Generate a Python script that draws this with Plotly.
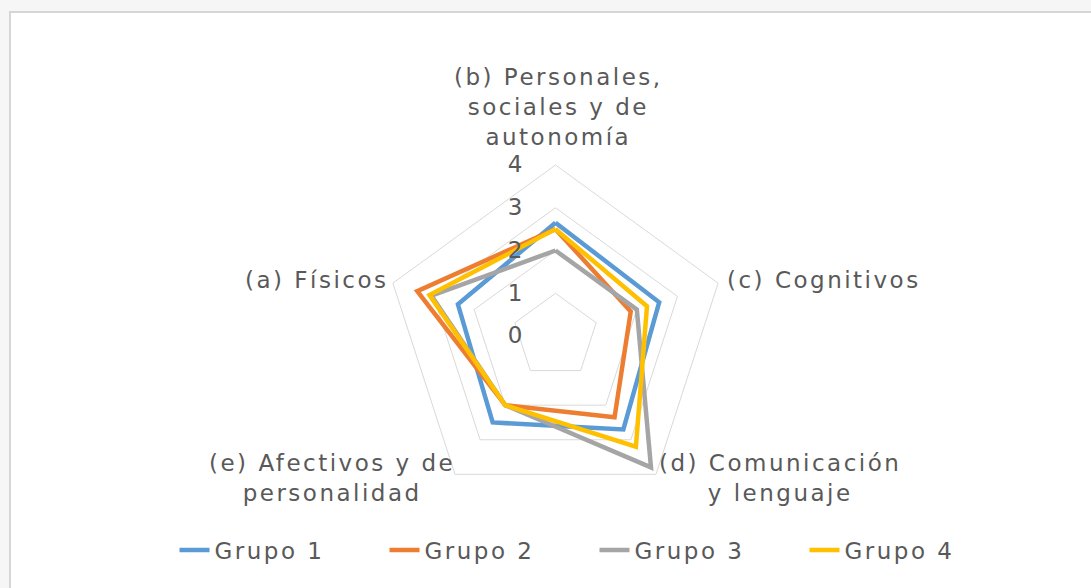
import plotly.graph_objects as go

categories = [
    "(b) Personales,<br>sociales y de<br>autonomía",
    "(c) Cognitivos",
    "(d) Comunicación<br>y lenguaje",
    "(e) Afectivos y de<br>personalidad",
    "(a) Físicos",
]
series_names = ["Grupo 1", "Grupo 2", "Grupo 3", "Grupo 4"]
grupo1 = [2.65, 2.55, 2.7, 2.5, 2.4]
grupo2 = [2.5, 1.85, 2.35, 2.0, 3.4]
grupo3 = [2.0, 2.0, 3.8, 2.0, 3.05]
grupo4 = [2.5, 2.25, 3.2, 2.0, 3.1]
colors = ["#5B9BD5", "#ED7D31", "#A5A5A5", "#FFC000"]
radial_ticks = [0, 1, 2, 3, 4]

W, H = 1091, 588
cx, cy, R = 555.5, 336, 171

LS = "letter-spacing:2.5px"

def spaced(t):
    return "<br>".join(f'<span style="{LS}">{p}</span>' for p in t.split("<br>"))

fig = go.Figure()
for name, vals, col in zip(series_names, [grupo1, grupo2, grupo3, grupo4], colors):
    fig.add_trace(go.Scatterpolar(
        r=vals + vals[:1],
        theta=categories + categories[:1],
        mode="lines",
        name=spaced(name),
        line=dict(color=col, width=4.5),
        hoverinfo="skip",
    ))

FS = 23
TXT = "#595959"

# category label placement (pixel centres of the label blocks)
label_pos = [(558, 107, "center"), (725, 280, "left"), (780, 478, "center"),
             (332, 478, "center"), (317, 280, "center")]
annotations = []
for cat, (lx, ly, anc) in zip(categories, label_pos):
    annotations.append(dict(
        text=spaced(cat), xref="paper", yref="paper", x=lx / W, y=1 - ly / H,
        xanchor=anc, yanchor="middle", align="center", showarrow=False,
        font=dict(family="DejaVu Sans", size=FS, color=TXT),
    ))

fig.update_layout(
    width=W, height=H,
    margin=dict(l=0, r=0, t=0, b=0),
    paper_bgcolor="#f6f6f6",
    plot_bgcolor="white",
    font=dict(family="DejaVu Sans", size=FS, color=TXT),
    polar=dict(
        domain=dict(x=[(cx - R) / W, (cx + R) / W], y=[(H - cy - R) / H, (H - cy + R) / H]),
        bgcolor="rgba(0,0,0,0)",
        gridshape="linear",
        angularaxis=dict(
            direction="clockwise",
            rotation=90,
            showgrid=False,
            showline=True,
            linecolor="#d9d9d9",
            linewidth=1,
            ticks="",
            showticklabels=False,
            tickvals=categories,
        ),
        radialaxis=dict(
            range=[0, 4],
            angle=90,
            tickangle=90,
            side="counterclockwise",
            tickvals=radial_ticks,
            ticktext=[spaced(str(v)) for v in radial_ticks],
            showline=False,
            gridcolor="#d9d9d9",
            gridwidth=1,
            ticks="outside",
            ticklen=22,
            tickcolor="rgba(0,0,0,0)",
            tickfont=dict(family="DejaVu Sans", size=FS, color=TXT),
        ),
    ),
    legend=dict(
        orientation="h",
        x=0.5 + 49 / W, xanchor="center",
        y=(H - 550) / H, yanchor="middle",
        entrywidth=165, entrywidthmode="pixels",
        font=dict(family="DejaVu Sans", size=FS, color=TXT),
        bgcolor="rgba(0,0,0,0)",
    ),
    annotations=annotations,
    shapes=[
        dict(type="rect", xref="paper", yref="paper", x0=10 / W, x1=1.01, y0=-0.01, y1=(H - 12) / H,
             fillcolor="white", line=dict(color="#d6d6d6", width=2), layer="below"),
    ],
)

fig.write_html("out.html", config={"displayModeBar": False},
               post_script="document.body.style.margin='0';")
